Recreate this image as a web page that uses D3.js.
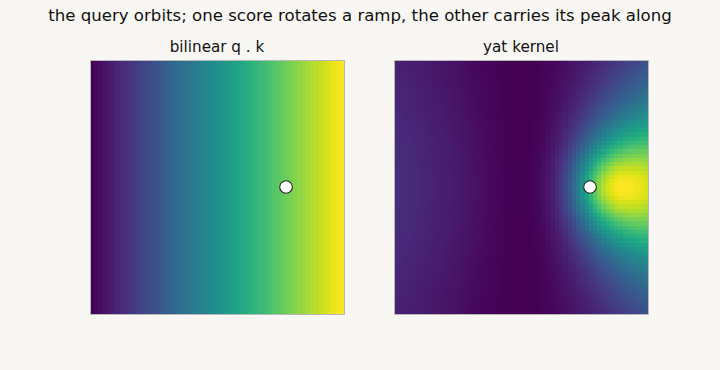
<!DOCTYPE html>
<html>
<head>
<meta charset="utf-8">
<script src="https://cdn.jsdelivr.net/npm/d3@7"></script>
<style>
  body { margin: 0; background: #f9f7f4; }
  svg { display: block; font-family: "DejaVu Sans", sans-serif; }
</style>
</head>
<body>
<svg id="chart" width="720" height="370"></svg>
<script>
// query position (x, y) in key space, and the extent of the key grid
const query = [1.0, 0.0];
const extent = [-1.84, 1.84];
const gridSize = 60;
const yatEps = 0.5;

const panelTitles = ["bilinear q . k", "yat kernel"];
const panelX = [90, 394];
const title = "the query orbits; one score rotates a ramp, the other carries its peak along";

// keys on a regular grid
const keyAxis = d3.range(gridSize).map(i => extent[0] + (extent[1] - extent[0]) * (i + 0.5) / gridSize);

const scoreFns = [
  (k) => query[0] * k[0] + query[1] * k[1],
  (k) => {
    const dot = query[0] * k[0] + query[1] * k[1];
    const dx = query[0] - k[0], dy = query[1] - k[1];
    return dot * dot / (dx * dx + dy * dy + yatEps);
  }
];

const svg = d3.select('#chart');
const size = 254, panelTop = 60;

svg.append('text')
  .attr('x', 360).attr('y', 21)
  .attr('text-anchor', 'middle')
  .attr('font-size', 16.6)
  .attr('fill', '#111')
  .text(title);

scoreFns.forEach((fn, p) => {
  let cells = [];
  keyAxis.forEach((ky, j) => keyAxis.forEach((kx, i) => {
    cells.push({ i, j, v: fn([kx, ky]) });
  }));

  let color = d3.scaleSequential(d3.interpolateViridis)
    .domain(d3.extent(cells, d => d.v));

  let x = d3.scaleBand().domain(d3.range(gridSize)).range([panelX[p], panelX[p] + size]);
  let y = d3.scaleBand().domain(d3.range(gridSize)).range([panelTop + size, panelTop]);
  let qx = d3.scaleLinear().domain(extent).range([panelX[p], panelX[p] + size]);
  let qy = d3.scaleLinear().domain(extent).range([panelTop + size, panelTop]);

  let g = svg.append('g');
  g.selectAll('rect')
    .data(cells)
    .enter()
    .append('rect')
    .attr('x', d => x(d.i))
    .attr('y', d => y(d.j))
    .attr('width', x.bandwidth() + 0.5)
    .attr('height', y.bandwidth() + 0.5)
    .attr('fill', d => color(d.v))
    .attr('shape-rendering', 'crispEdges');

  svg.append('rect')
    .attr('x', panelX[p] + 0.5).attr('y', panelTop + 0.5)
    .attr('width', size).attr('height', size)
    .attr('fill', 'none')
    .attr('stroke', '#b8b8b8')
    .attr('stroke-width', 1);

  svg.append('circle')
    .attr('cx', qx(query[0]))
    .attr('cy', qy(query[1]))
    .attr('r', 6.3)
    .attr('fill', '#fff')
    .attr('stroke', '#222')
    .attr('stroke-width', 1.1);

  svg.append('text')
    .attr('x', panelX[p] + size / 2).attr('y', 52)
    .attr('text-anchor', 'middle')
    .attr('font-size', 15.2)
    .attr('fill', '#111')
    .text(panelTitles[p]);
});
</script>
</body>
</html>
